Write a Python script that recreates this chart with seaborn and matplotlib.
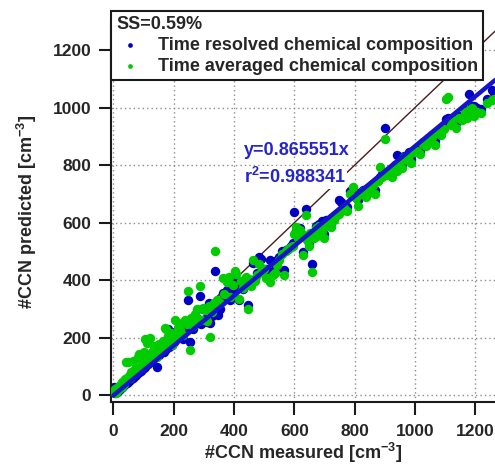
import numpy as np
import pandas as pd
import matplotlib
matplotlib.use("Agg")
import matplotlib.pyplot as plt
import seaborn as sns

# measured CCN [cm-3] and the two predictions
ccn_measured = [
    3, 6, 9, 12, 15, 18, 21, 24, 27, 30, 33, 36, 40, 43, 46, 50, 53, 56, 60, 63, 66, 70,
    73, 76, 80, 83, 86, 90, 93, 96, 100, 103, 106, 110, 113, 116, 120, 124, 128, 132, 136, 140, 144, 148,
    152, 156, 160, 164, 168, 172, 176, 180, 185, 190, 195, 200, 205, 210, 215, 220, 226, 232, 238, 244,
    248, 253, 258, 264, 270, 276, 282, 287, 292, 298, 304, 310, 316, 320, 326, 332, 336, 342, 348,
    355, 362, 368, 375, 382, 388, 395, 402, 408, 415, 422, 430, 438, 445, 450, 456, 462, 468, 475,
    482, 490, 498, 505, 512, 520, 528, 535, 542, 550, 558, 565, 572, 580, 588, 595,
    600, 606, 612, 618, 624, 630, 637, 642, 648, 653, 658, 664, 670, 676, 682, 690, 698, 706, 714,
    722, 730, 740, 748, 756, 765, 775, 785, 793,
    805, 812, 820, 828, 836, 845, 852, 860, 868, 876, 884, 892, 900, 908, 916, 924, 932, 940, 948,
    956, 964, 972, 980, 988, 996,
    1005, 1015, 1025, 1035, 1045, 1055, 1065, 1075, 1085, 1095, 1102, 1110, 1118, 1126, 1135, 1145,
    1155, 1165, 1172, 1179, 1188, 1196, 1205, 1218, 1240, 1256, 1262,
]

pred_resolved = [
    30, 8, 10, 12, 16, 20, 22, 24, 28, 30, 32, 35, 38, 42, 44, 48, 50, 52, 58, 60, 62, 66,
    70, 72, 78, 80, 82, 86, 92, 92, 96, 100, 100, 108, 108, 110, 115, 118, 122, 125, 130, 132, 100, 140,
    140, 148, 150, 156, 152, 178, 160, 230, 168, 220, 175, 185, 220, 200, 205, 212, 225, 195, 230, 235,
    333, 185, 250, 232, 255, 270, 250, 344, 248, 300, 265, 255, 322, 250, 275, 300, 432, 310, 280,
    300, 355, 340, 365, 350, 330, 370, 400, 395, 330, 385, 370, 400, 313, 395, 385, 460, 405, 425,
    481, 475, 440, 440, 420, 470, 430, 440, 470, 480, 500, 437, 505, 510, 520, 530,
    638, 570, 545, 580, 555, 498, 649, 550, 530, 560, 458, 560, 590, 575, 595, 605, 560, 610, 600,
    600, 615, 630, 680, 672, 660, 655, 710, 719,
    690, 680, 705, 715, 700, 720, 715, 735, 712, 748, 760, 770, 928, 775, 780, 770, 800, 835, 812,
    800, 830, 825, 845, 820, 850,
    860, 850, 880, 870, 890, 905, 885, 920, 915, 935, 960, 965, 950, 960, 945, 970,
    968, 990, 975, 1046, 1005, 1005, 1000, 995, 1030, 1061, 1050,
]

pred_averaged = [
    12, 22, 8, 26, 18, 31, 24, 38, 30, 45, 36, 41, 58, 116, 62, 115, 66, 60, 82, 71, 118, 78,
    92, 84, 135, 95, 145, 102, 128, 110, 108, 150, 195, 182, 125, 140, 198, 132, 150, 145, 172, 158, 132, 176,
    180, 158, 172, 190, 165, 235, 232, 205, 190, 215, 176, 198, 262, 215, 235, 228, 250, 210, 262, 248,
    362, 157, 268, 240, 282, 300, 265, 380, 262, 304, 295, 258, 312, 203, 290, 320, 502, 330, 316,
    320, 408, 352, 395, 412, 340, 385, 432, 420, 335, 398, 372, 412, 301, 405, 380, 470, 398, 418,
    458, 428, 440, 408, 406, 395, 417, 425, 452, 470, 490, 417, 500, 508, 515, 520,
    560, 585, 548, 575, 560, 487, 626, 540, 520, 565, 429, 545, 582, 555, 590, 572, 548, 600, 590,
    585, 610, 625, 630, 640, 650, 640, 700, 725,
    684, 657, 700, 710, 690, 718, 707, 730, 700, 745, 794, 760, 889, 765, 772, 758, 794, 780, 806,
    790, 829, 817, 836, 806, 845,
    850, 838, 872, 865, 880, 898, 870, 912, 905, 925, 1030, 1038, 940, 955, 930, 962,
    958, 985, 962, 990, 1000, 972, 985, 980, 1015, 1025, 1030,
]

fit_slope = 0.865551
fit_r2 = 0.988341
ss_label = "SS=0.59%"
series_names = ["Time resolved chemical composition", "Time averaged chemical composition"]
ticks = [0, 200, 400, 600, 800, 1000, 1200]

blue = "#0000c4"
green = "#00cc00"

sns.set_style("white")
plt.rcParams["font.family"] = ["Liberation Sans", "DejaVu Sans"]
plt.rcParams["font.weight"] = "bold"
plt.rcParams["mathtext.fontset"] = "custom"
plt.rcParams["mathtext.rm"] = "Liberation Sans:bold"
plt.rcParams["mathtext.it"] = "Liberation Sans:bold"
plt.rcParams["mathtext.bf"] = "Liberation Sans:bold"

dados = pd.DataFrame({
    "measured": ccn_measured,
    "resolved": pred_resolved,
    "averaged": pred_averaged,
})

fig = plt.figure(figsize=(4.95, 4.67), dpi=100)
ax = fig.add_axes([0.2236, 0.1392, 0.7764, 0.8143])

xmin, xmax = -9, 1265
ymin, ymax = -23, 1298

# grid + 1:1 line under the points
ax.set_xticks(ticks)
ax.set_yticks(ticks)
ax.grid(True, color="#8a8a8a", linestyle=(0, (1, 2.2)), linewidth=1.0)
ax.set_axisbelow(True)
ax.axline((0, 0), slope=1, color="#4a1c1c", linewidth=1.0, zorder=1)

sns.scatterplot(data=dados, x="measured", y="resolved", color=blue, s=46,
                linewidth=0, label=series_names[0], ax=ax, zorder=2)
sns.scatterplot(data=dados, x="measured", y="averaged", color=green, s=46,
                linewidth=0, label=series_names[1], ax=ax, zorder=3)

# fitted line through origin
fit_x = np.array([0, xmax])
ax.plot(fit_x, fit_slope * fit_x, color="#1414cc", linewidth=3.2, zorder=4)

ax.text(432, 852, f"y={fit_slope:.6f}x", color="#2424d0", fontsize=13,
        fontweight="bold", va="center", ha="left", zorder=5)
ax.text(432, 758, "r$^{2}$" + f"={fit_r2:.6f}", color="#2424d0", fontsize=13,
        fontweight="bold", va="center", ha="left", zorder=5,
        bbox=dict(facecolor="white", edgecolor="none", pad=1))

ax.set_xlim(xmin, xmax)
ax.set_ylim(ymin, ymax)

for s in ["top", "right"]:
    ax.spines[s].set_visible(False)
for s in ["left", "bottom"]:
    ax.spines[s].set_linewidth(1.5)
    ax.spines[s].set_color("#1a1a1a")

ax.tick_params(axis="both", direction="out", length=9, width=1.5, color="#1a1a1a",
               labelsize=12.5, left=True, bottom=True)
ax.tick_params(axis="x", pad=7)
ax.tick_params(axis="y", pad=5)
for lab in ax.get_xticklabels() + ax.get_yticklabels():
    lab.set_fontweight("bold")

ax.set_xlabel("#CCN measured [cm$^{-3}$]", fontsize=13, fontweight="bold", labelpad=1.5)
ax.set_ylabel("#CCN predicted [cm$^{-3}$]", fontsize=13, fontweight="bold", labelpad=10)

leg = ax.legend(title=ss_label, loc="upper left", bbox_to_anchor=(0.0, 1.028),
                borderaxespad=0, fontsize=13, title_fontsize=13, frameon=True,
                fancybox=False, handlelength=1.5, handletextpad=0.8,
                labelspacing=0.2, borderpad=0.3, markerscale=0.5,
                alignment="left")
leg.get_title().set_fontweight("bold")
leg.get_frame().set_edgecolor("#1a1a1a")
leg.get_frame().set_linewidth(1.5)
leg.get_frame().set_alpha(1)
leg.set_zorder(10)

fig.savefig("out.png", dpi=100)
